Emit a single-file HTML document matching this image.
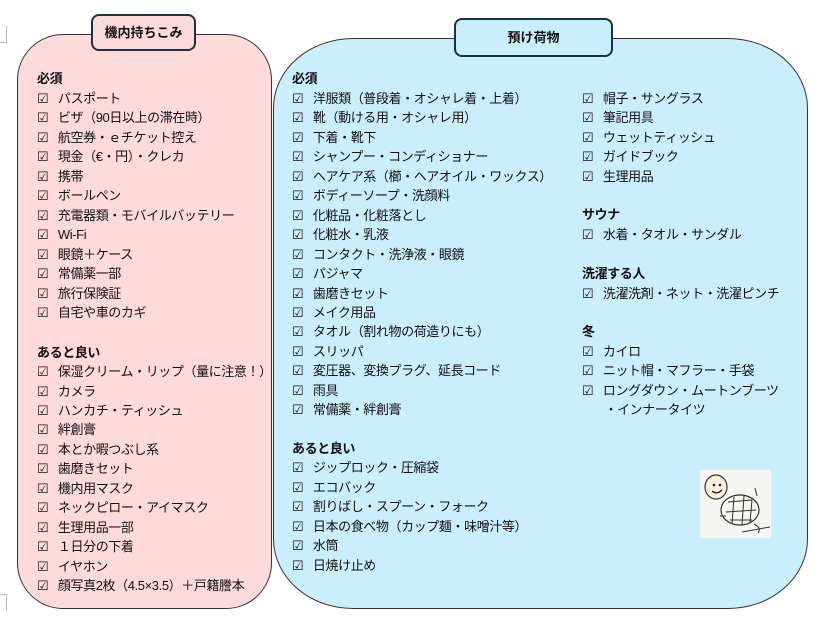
<!DOCTYPE html>
<html><head><meta charset="utf-8"><style>
html,body{margin:0;padding:0;background:#fff;width:832px;height:620px;overflow:hidden;position:relative;font-family:"Liberation Sans","Noto Sans CJK JP",sans-serif;font-size:13px;color:#111}
.box{position:absolute;border:1.3px solid #333;box-sizing:border-box}
.t{position:absolute;border:2px solid #17324a;border-radius:8px;box-sizing:border-box;font-weight:bold;font-size:13px;text-align:center}
.l{position:absolute;white-space:nowrap;line-height:18px;letter-spacing:-0.4px;margin-top:1px}
.h{font-weight:bold}
</style></head><body>
<div style="position:absolute;left:0;top:26px;width:6px;height:16px;border-right:1px solid #bbb;border-bottom:1px solid #bbb"></div>
<div style="position:absolute;left:0;top:594px;width:6px;height:16px;border-right:1px solid #bbb;border-top:1px solid #bbb"></div>
<div class="box" style="left:17px;top:34px;width:255px;height:575px;background:#fedadb;border-radius:46px"></div>
<div class="box" style="left:273px;top:38px;width:535px;height:571px;background:#cbeefd;border-radius:80px 80px 80px 80px / 70px 70px 70px 70px"></div>
<div class="t" style="left:91px;top:14px;width:105px;height:37px;line-height:33px;background:#fedadb">機内持ちこみ</div>
<div class="t" style="left:454px;top:18px;width:159px;height:39px;line-height:35px;background:#cbeefd">預け荷物</div>

<div class="l h" style="left:37px;top:69px">必須</div>
<div class="l" style="left:37px;top:89px">☑&nbsp;&nbsp; パスポート</div>
<div class="l" style="left:37px;top:108px">☑&nbsp;&nbsp; ビザ（90日以上の滞在時）</div>
<div class="l" style="left:37px;top:128px">☑&nbsp;&nbsp; 航空券・ｅチケット控え</div>
<div class="l" style="left:37px;top:147px">☑&nbsp;&nbsp; 現金（€・円）・クレカ</div>
<div class="l" style="left:37px;top:167px">☑&nbsp;&nbsp; 携帯</div>
<div class="l" style="left:37px;top:186px">☑&nbsp;&nbsp; ボールペン</div>
<div class="l" style="left:37px;top:206px">☑&nbsp;&nbsp; 充電器類・モバイルバッテリー</div>
<div class="l" style="left:37px;top:225px">☑&nbsp;&nbsp; Wi-Fi</div>
<div class="l" style="left:37px;top:245px">☑&nbsp;&nbsp; 眼鏡＋ケース</div>
<div class="l" style="left:37px;top:264px">☑&nbsp;&nbsp; 常備薬一部</div>
<div class="l" style="left:37px;top:284px">☑&nbsp;&nbsp; 旅行保険証</div>
<div class="l" style="left:37px;top:303px">☑&nbsp;&nbsp; 自宅や車のカギ</div>
<div class="l h" style="left:37px;top:343px">あると良い</div>
<div class="l" style="left:37px;top:362px">☑&nbsp;&nbsp; 保湿クリーム・リップ（量に注意！）</div>
<div class="l" style="left:37px;top:382px">☑&nbsp;&nbsp; カメラ</div>
<div class="l" style="left:37px;top:401px">☑&nbsp;&nbsp; ハンカチ・ティッシュ</div>
<div class="l" style="left:37px;top:420px">☑&nbsp;&nbsp; 絆創膏</div>
<div class="l" style="left:37px;top:440px">☑&nbsp;&nbsp; 本とか暇つぶし系</div>
<div class="l" style="left:37px;top:459px">☑&nbsp;&nbsp; 歯磨きセット</div>
<div class="l" style="left:37px;top:479px">☑&nbsp;&nbsp; 機内用マスク</div>
<div class="l" style="left:37px;top:498px">☑&nbsp;&nbsp; ネックピロー・アイマスク</div>
<div class="l" style="left:37px;top:518px">☑&nbsp;&nbsp; 生理用品一部</div>
<div class="l" style="left:37px;top:537px">☑&nbsp;&nbsp; １日分の下着</div>
<div class="l" style="left:37px;top:557px">☑&nbsp;&nbsp; イヤホン</div>
<div class="l" style="left:37px;top:576px">☑&nbsp;&nbsp; 顔写真2枚（4.5×3.5）＋戸籍謄本</div>

<div class="l h" style="left:292px;top:69px">必須</div>
<div class="l" style="left:292px;top:89px">☑&nbsp;&nbsp; 洋服類（普段着・オシャレ着・上着）</div>
<div class="l" style="left:292px;top:108px">☑&nbsp;&nbsp; 靴（動ける用・オシャレ用）</div>
<div class="l" style="left:292px;top:128px">☑&nbsp;&nbsp; 下着・靴下</div>
<div class="l" style="left:292px;top:147px">☑&nbsp;&nbsp; シャンプー・コンディショナー</div>
<div class="l" style="left:292px;top:167px">☑&nbsp;&nbsp; ヘアケア系（櫛・ヘアオイル・ワックス）</div>
<div class="l" style="left:292px;top:186px">☑&nbsp;&nbsp; ボディーソープ・洗顔料</div>
<div class="l" style="left:292px;top:206px">☑&nbsp;&nbsp; 化粧品・化粧落とし</div>
<div class="l" style="left:292px;top:225px">☑&nbsp;&nbsp; 化粧水・乳液</div>
<div class="l" style="left:292px;top:245px">☑&nbsp;&nbsp; コンタクト・洗浄液・眼鏡</div>
<div class="l" style="left:292px;top:264px">☑&nbsp;&nbsp; パジャマ</div>
<div class="l" style="left:292px;top:284px">☑&nbsp;&nbsp; 歯磨きセット</div>
<div class="l" style="left:292px;top:303px">☑&nbsp;&nbsp; メイク用品</div>
<div class="l" style="left:292px;top:322px">☑&nbsp;&nbsp; タオル（割れ物の荷造りにも）</div>
<div class="l" style="left:292px;top:342px">☑&nbsp;&nbsp; スリッパ</div>
<div class="l" style="left:292px;top:361px">☑&nbsp;&nbsp; 変圧器、変換プラグ、延長コード</div>
<div class="l" style="left:292px;top:381px">☑&nbsp;&nbsp; 雨具</div>
<div class="l" style="left:292px;top:400px">☑&nbsp;&nbsp; 常備薬・絆創膏</div>
<div class="l h" style="left:292px;top:439px">あると良い</div>
<div class="l" style="left:292px;top:458px">☑&nbsp;&nbsp; ジップロック・圧縮袋</div>
<div class="l" style="left:292px;top:478px">☑&nbsp;&nbsp; エコバック</div>
<div class="l" style="left:292px;top:497px">☑&nbsp;&nbsp; 割りばし・スプーン・フォーク</div>
<div class="l" style="left:292px;top:517px">☑&nbsp;&nbsp; 日本の食べ物（カップ麺・味噌汁等）</div>
<div class="l" style="left:292px;top:536px">☑&nbsp;&nbsp; 水筒</div>
<div class="l" style="left:292px;top:556px">☑&nbsp;&nbsp; 日焼け止め</div>

<div class="l" style="left:582px;top:89px">☑&nbsp;&nbsp; 帽子・サングラス</div>
<div class="l" style="left:582px;top:108px">☑&nbsp;&nbsp; 筆記用具</div>
<div class="l" style="left:582px;top:128px">☑&nbsp;&nbsp; ウェットティッシュ</div>
<div class="l" style="left:582px;top:147px">☑&nbsp;&nbsp; ガイドブック</div>
<div class="l" style="left:582px;top:167px">☑&nbsp;&nbsp; 生理用品</div>
<div class="l h" style="left:582px;top:205px">サウナ</div>
<div class="l" style="left:582px;top:225px">☑&nbsp;&nbsp; 水着・タオル・サンダル</div>
<div class="l h" style="left:582px;top:264px">洗濯する人</div>
<div class="l" style="left:582px;top:284px">☑&nbsp;&nbsp; 洗濯洗剤・ネット・洗濯ピンチ</div>
<div class="l h" style="left:582px;top:322px">冬</div>
<div class="l" style="left:582px;top:342px">☑&nbsp;&nbsp; カイロ</div>
<div class="l" style="left:582px;top:361px">☑&nbsp;&nbsp; ニット帽・マフラー・手袋</div>
<div class="l" style="left:582px;top:381px">☑&nbsp;&nbsp; ロングダウン・ムートンブーツ</div>
<div class="l" style="left:582px;top:400px">&nbsp;&nbsp;&nbsp;&nbsp;&nbsp;&nbsp; ・インナータイツ</div>

<svg style="position:absolute;left:700px;top:470px" width="71" height="68" viewBox="0 0 71 68">
<rect width="71" height="68" fill="#f5f5f2"/>
<ellipse cx="16" cy="17" rx="11" ry="12" fill="#fdf0dc" stroke="#333" stroke-width="1.2"/>
<circle cx="14" cy="15" r="1.3" fill="#222"/><circle cx="20" cy="15" r="1.3" fill="#222"/>
<path d="M12 21 Q17 25 22 20" stroke="#222" fill="none" stroke-width="1.3"/>
<ellipse cx="40" cy="40" rx="19" ry="15" fill="#f7f8ee" stroke="#333" stroke-width="1.2"/>
<path d="M28 32 L52 30 M26 42 L56 40 M30 50 L52 50 M34 27 L32 54 M44 26 L42 55 M52 30 L50 52" stroke="#333" fill="none" stroke-width="1"/>
<path d="M55 18 L57 26 M20 46 L26 46 M54 54 Q62 58 58 63 M42 62 L70 57" stroke="#333" fill="none" stroke-width="1"/>
</svg>
</body></html>
